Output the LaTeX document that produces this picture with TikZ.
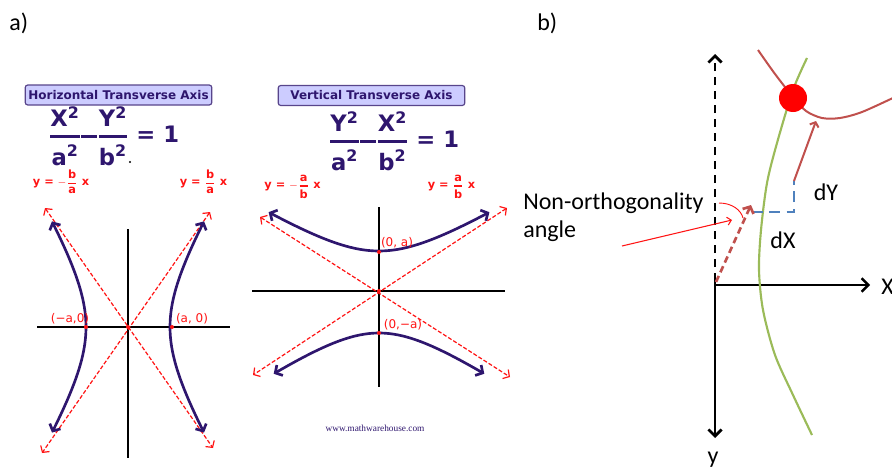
\documentclass[tikz,border=0pt]{standalone}
\usepackage{fontspec}
\usepackage{amsmath}
\setmainfont{Carlito}
\newfontfamily\verd{DejaVu Sans}
\newfontfamily\tms{Liberation Serif}
\usetikzlibrary{arrows.meta}
\definecolor{roxo}{RGB}{46,22,110}
\definecolor{lilas}{RGB}{204,204,255}
\definecolor{vermelho}{RGB}{255,20,20}
\definecolor{tijolo}{RGB}{192,80,77}
\definecolor{oliva}{RGB}{155,187,89}
\definecolor{azul}{RGB}{79,129,189}
\newcommand{\hfrac}[2]{\genfrac{}{}{1.8pt}{0}{\mbox{#1}}{\mbox{#2}}}
\newcommand{\pfrac}[2]{\genfrac{}{}{0.9pt}{0}{\mbox{#1}}{\mbox{#2}}}
\newcommand{\menos}{\vcenter{\hrule width 12pt height 0.9pt depth 0.9pt}}
\begin{document}
\begin{tikzpicture}[x=0.75pt, y=-0.75pt,
        titulo/.style={draw=roxo!80, fill=lilas, rounded corners=2pt, line width=0.9pt, text=roxo, font=\verd\bfseries\fontsize{9}{10}\selectfont, minimum width=140pt, minimum height=15pt, inner xsep=1pt, inner ysep=1pt},
        eq/.style={text=roxo, font=\verd\bfseries\fontsize{17}{19}\selectfont, inner sep=0pt},
        assinl/.style={text=vermelho, font=\verd\bfseries\fontsize{8.5}{9}\selectfont, inner sep=0pt},
        vert/.style={text=vermelho, font=\verd\fontsize{9}{10}\selectfont, inner sep=0pt},
        ponto/.style={circle, fill=vermelho, inner sep=0pt, minimum size=3pt},
        eixo/.style={line width=1.5pt},
        ramo/.style={roxo, line width=2pt, {Straight Barb[length=4pt,width=9pt]}-{Straight Barb[length=4pt,width=9pt]}},
        assint/.style={vermelho, line width=0.9pt, dash pattern=on 3pt off 1.5pt, {Straight Barb[length=3.5pt,width=8pt]}-{Straight Barb[length=3.5pt,width=8pt]}},
        rot/.style={font=\fontsize{18}{20}\selectfont, inner sep=0pt}]
    \useasboundingbox (0,0) rectangle (892,471);
    \node[rot, anchor=base west] (la) at (9,30) {a)};
    \node[rot, anchor=base west] (lb) at (537,31) {b)};
    % a) horizontal
    \node[titulo] (tH) at (118.5,95) {Horizontal Transverse Axis};
    \node[eq] (eqH) at (114,136) {$\hfrac{X\textsuperscript{2}}{a\textsuperscript{2}}\menos\hfrac{Y\textsuperscript{2}}{b\textsuperscript{2}}$ = 1};
    \fill (130,162) circle (1.2);
    \node[assinl] (aH1) at (61,182) {y = $-\pfrac{b}{a}$ x};
    \node[assinl] (aH2) at (203.5,182) {y = $\pfrac{b}{a}$ x};
    \coordinate (oH) at (128,327);
    \draw[eixo] (128,229) -- (128,458);
    \draw[eixo] (37,327) -- (230,327);
    \draw[assint] (45,208) -- (213,448);
    \draw[assint] (210,212) -- (42,453);
    \draw[ramo, shift={(oH)}] plot[domain=-1.2:1.2, samples=40, smooth] ({-42*cosh(\x)},{70*sinh(\x)});
    \draw[ramo, shift={(oH)}] plot[domain=-1.2:1.2, samples=40, smooth] ({42*cosh(\x)},{70*sinh(\x)});
    \foreach \n/\x/\y in {pH1/86/327, pH2/172/327, pH0/128/327}{
        \node[ponto] (\n) at (\x,\y) {};
    }
    \node[vert] (vH1) at (70,319) {(−a,0)};
    \node[vert] (vH2) at (192,319) {(a, 0)};
    % a) vertical
    \node[titulo] (tV) at (371.5,95.5) {Vertical Transverse Axis};
    \node[eq] (eqV) at (394,141) {$\hfrac{Y\textsuperscript{2}}{a\textsuperscript{2}}\menos\hfrac{X\textsuperscript{2}}{b\textsuperscript{2}}$ = 1};
    \node[assinl] (aV1) at (292.5,187) {y = $-\pfrac{a}{b}$ x};
    \node[assinl] (aV2) at (451.5,187) {y = $\pfrac{a}{b}$ x};
    \coordinate (oV) at (379,291);
    \draw[eixo] (379,207) -- (379,387);
    \draw[eixo] (252,291) -- (505,291);
    \draw[assint] (260,217) -- (510,377);
    \draw[assint] (507,208) -- (253,375);
    \draw[ramo, shift={(oV)}] plot[domain=-1.3:1.3, samples=40, smooth] ({65*sinh(\x)},{-40*cosh(\x)});
    \draw[ramo, shift={(oV)}] plot[domain=-1.3:1.3, samples=40, smooth] ({62*sinh(\x)},{42*cosh(\x)});
    \foreach \n/\x/\y in {pV1/379/252, pV2/379/333, pV0/379/291}{
        \node[ponto] (\n) at (\x,\y) {};
    }
    \node[vert] (vV1) at (397,243) {(0, a)};
    \node[vert] (vV2) at (403,325) {(0,−a)};
    \node[font=\tms\fontsize{7}{8}\selectfont, text=roxo, inner sep=0pt] (www) at (375,428) {www.mathwarehouse.com};
    % b)
    \coordinate (oB) at (715,284);
    \draw[line width=2pt, dash pattern=on 6pt off 4.5pt, -{Straight Barb[length=5pt,width=10pt]}] (715,281) -- (715,54);
    \draw[line width=2pt, -{Straight Barb[length=5pt,width=10pt]}] (715,274) -- (715,438);
    \draw[line width=1.8pt, -{Straight Barb[length=5pt,width=10pt]}] (714,285) -- (870,285);
    \node[rot, anchor=west] (lX) at (881,287) {X};
    \node[rot, anchor=base] (lY) at (713,463) {y};
    \draw[oliva, line width=1.6pt] plot[smooth] coordinates {(807,58) (793,90) (777,143) (767,183) (761,230) (759,270) (763,310) (775,355) (793,395) (812,435)};
    \draw[tijolo, line width=1.5pt] plot[smooth] coordinates {(758,50) (775,74) (793,97) (806,111) (822,118) (840,118) (862,112) (895,97)};
    \node[circle, fill=red, inner sep=0pt, minimum size=21pt] (pt) at (793,98) {};
    \coordinate (cX) at (752,212);
    \coordinate (cC) at (794,212);
    \coordinate (cY) at (794,181);
    \draw[azul, line width=2pt, dash pattern=on 8pt off 5pt] (cX) -- (cC) -- (cY);
    \draw[tijolo, line width=1.5pt, -{Straight Barb[length=3pt,width=7pt]}] (cY) -- (816,121);
    \draw[tijolo, line width=2pt, dash pattern=on 5pt off 3pt, -{Straight Barb[length=4pt,width=9pt]}] (716,282) -- (751,205);
    \draw[vermelho, line width=0.7pt] (719,203) .. controls (732,203) and (741,210) .. (743,218);
    \node[rot, anchor=west] (nonorth) at (523,203) {Non-orthogonality};
    \node[rot, anchor=west] (ang) at (523,231) {angle};
    \draw[vermelho, line width=0.8pt, -{Straight Barb[length=3pt,width=6pt]}] (622,246) -- (732,220);
    \node[rot] (dY) at (826,192) {dY};
    \node[rot] (dX) at (783,240) {dX};
\end{tikzpicture}
\end{document}
